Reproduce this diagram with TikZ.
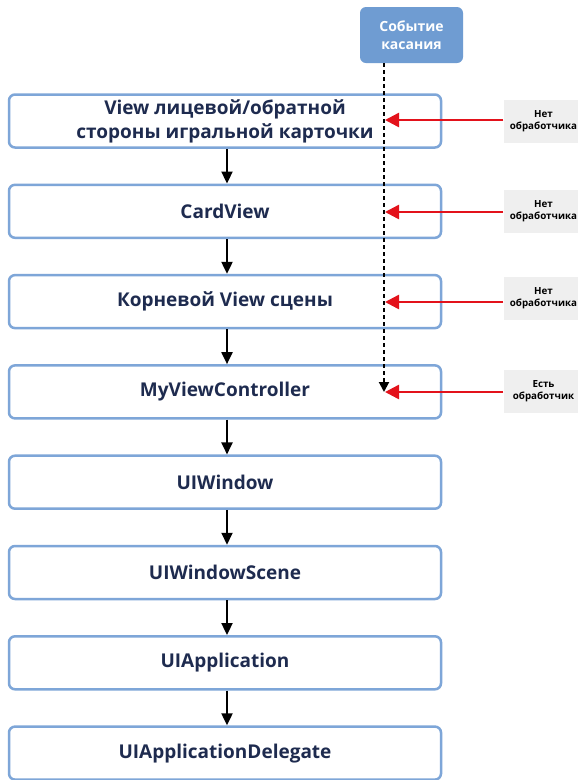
\documentclass[tikz,border=0pt]{standalone}
\usepackage{fontspec}
\setmainfont{Open Sans}
\usetikzlibrary{arrows.meta,positioning}
\definecolor{boxblue}{HTML}{7EA6D8}
\definecolor{evblue}{HTML}{6F9CD2}
\definecolor{navy}{HTML}{1E2B4F}
\definecolor{redarr}{HTML}{E3121B}
\definecolor{lblgray}{HTML}{EFEFEF}
\tikzset{
  layerbox/.style={draw=boxblue, line width=2.5pt, rounded corners=6pt, fill=white,
    minimum width=432pt, minimum height=53pt, align=center, text=navy,
    font=\fontsize{19}{24}\selectfont\bfseries, inner sep=0pt},
  evbox/.style={fill=evblue, rounded corners=6pt, minimum width=103pt, minimum height=56pt,
    align=center, text=white, font=\fontsize{14}{18}\selectfont\bfseries, inner sep=0pt},
  lblbox/.style={fill=lblgray, minimum width=80pt, minimum height=43pt, align=center,
    text=black, font=\fontsize{9.8}{12}\selectfont\bfseries, inner sep=0pt},
  flowarr/.style={line width=2pt, -{Triangle[length=12pt,width=11pt]}},
  redarrow/.style={draw=redarr, line width=2.5pt, -{Triangle[length=14pt,width=14pt]}},
  dasharr/.style={line width=2pt, dash pattern=on 4pt off 3pt, -{Triangle[length=10pt,width=10pt]}}
}
\begin{document}
\begin{tikzpicture}[x=1pt,y=-1pt]
\useasboundingbox[fill=white] (0,0) rectangle (578,780);
\begin{scope}
\clip (0,0) rectangle (578,780);
\node[layerbox] (b1) at (225,121) {View лицевой/обратной\\стороны игральной карточки};
\node[layerbox] (b2) at (225,211.3) {CardView};
\node[layerbox] (b3) at (225,301.6) {Корневой View сцены};
\node[layerbox] (b4) at (225,391.9) {MyViewController};
\node[layerbox] (b5) at (225,482.2) {UIWindow};
\node[layerbox] (b6) at (225,572.5) {UIWindowScene};
\node[layerbox] (b7) at (225,662.8) {UIApplication};
\node[layerbox] (b8) at (225,753.1) {UIApplicationDelegate};

\foreach \a/\b in {b1/b2,b2/b3,b3/b4,b4/b5,b5/b6,b6/b7,b7/b8}
  \draw[flowarr] ([xshift=2pt]\a.south) -- ([xshift=2pt]\b.north);

\node[evbox] (ev) at (411.5,35) {Событие\\касания};

\node[lblbox] (l1) at (543.5,121.5) {Нет\\обработчика};
\node[lblbox] (l2) at (543.5,211) {Нет\\обработчика};
\node[lblbox] (l3) at (543.5,298.5) {Нет\\обработчика};
\node[lblbox] (l4) at (543.5,391.5) {Есть\\обработчик};

\coordinate (dend) at (384,392);
\draw[dasharr] (ev.south -| dend) -- (dend);

\coordinate (t1) at (385,120);
\coordinate (t2) at (385,212);
\coordinate (t3) at (385,302);
\coordinate (t4) at (385,392);
\draw[redarrow] (l1.west |- t1) -- (t1);
\draw[redarrow] (l2.west |- t2) -- (t2);
\draw[redarrow] (l3.west |- t3) -- (t3);
\draw[redarrow] (l4.west |- t4) -- (t4);
\end{scope}
\end{tikzpicture}
\end{document}
